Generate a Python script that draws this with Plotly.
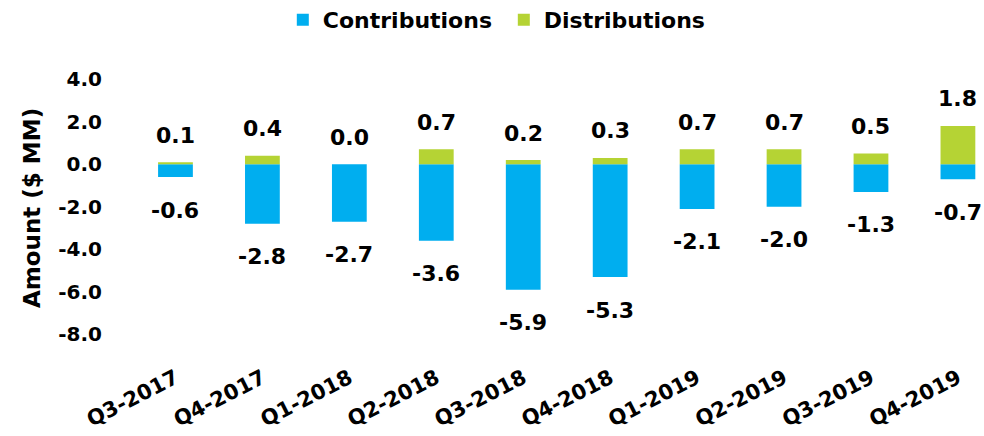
import plotly.graph_objects as go

quarters = ["Q3-2017", "Q4-2017", "Q1-2018", "Q2-2018", "Q3-2018",
            "Q4-2018", "Q1-2019", "Q2-2019", "Q3-2019", "Q4-2019"]
contributions = [-0.6, -2.8, -2.7, -3.6, -5.9, -5.3, -2.1, -2.0, -1.3, -0.7]
distributions = [0.1, 0.4, 0.0, 0.7, 0.2, 0.3, 0.7, 0.7, 0.5, 1.8]
y_ticks = [-8, -6, -4, -2, 0, 2, 4]

FONT = "DejaVu Sans"
BLUE = "#00AEEF"
GREEN = "#B5D334"

fig = go.Figure()
fig.add_trace(go.Bar(x=quarters, y=contributions, name="Contributions",
                     marker=dict(color=BLUE, line=dict(width=0))))
fig.add_trace(go.Bar(x=quarters, y=distributions, name="Distributions",
                     marker=dict(color=GREEN, line=dict(width=0))))

annotations = []
for q, c, d in zip(quarters, contributions, distributions):
    annotations.append(dict(x=q, y=c, text=f"{c:.1f}", showarrow=False,
                            yanchor="middle", yshift=-33,
                            font=dict(family=FONT, size=22, color="black", weight="bold")))
    annotations.append(dict(x=q, y=d, text=f"{d:.1f}", showarrow=False,
                            yanchor="middle", yshift=27,
                            font=dict(family=FONT, size=22, color="black", weight="bold")))

# y-axis title
annotations.append(dict(xref="paper", yref="paper", x=-0.1174, y=0.477,
                        xanchor="center", yanchor="middle", textangle=-90,
                        text="Amount ($ MM)", showarrow=False,
                        font=dict(family=FONT, size=23, color="black", weight="bold")))

fig.update_layout(
    width=984, height=436,
    barmode="relative", bargap=0.6,
    plot_bgcolor="white", paper_bgcolor="white",
    margin=dict(l=132, r=0, t=60, b=93, autoexpand=False),
    font=dict(family=FONT, color="black"),
    showlegend=True,
    legend=dict(orientation="h", xref="container", yref="container",
                x=0.512, xanchor="center", y=0.954, yanchor="middle",
                font=dict(family=FONT, size=22, color="black", weight="bold"),
                itemwidth=30, entrywidth=176, traceorder="normal"),
    annotations=annotations,
)
fig.update_xaxes(range=[-0.5, 9.3], showgrid=False, showline=False, zeroline=False,
                 tickangle=-27, ticks="", automargin=False, ticklabelstandoff=18,
                 tickfont=dict(family=FONT, size=21, color="black", weight="bold"))
fig.update_yaxes(range=[-8.4, 4.9], tickvals=y_ticks,
                 ticktext=[f"{v:.1f}" for v in y_ticks],
                 showgrid=False, showline=False, zeroline=False, ticks="",
                 automargin=False, ticklabelstandoff=29,
                 tickfont=dict(family=FONT, size=20, color="black", weight="bold"))

fig.write_html("out.html", config={"displayModeBar": False},
               post_script="document.body.style.margin='0';document.body.style.overflow='hidden';")
